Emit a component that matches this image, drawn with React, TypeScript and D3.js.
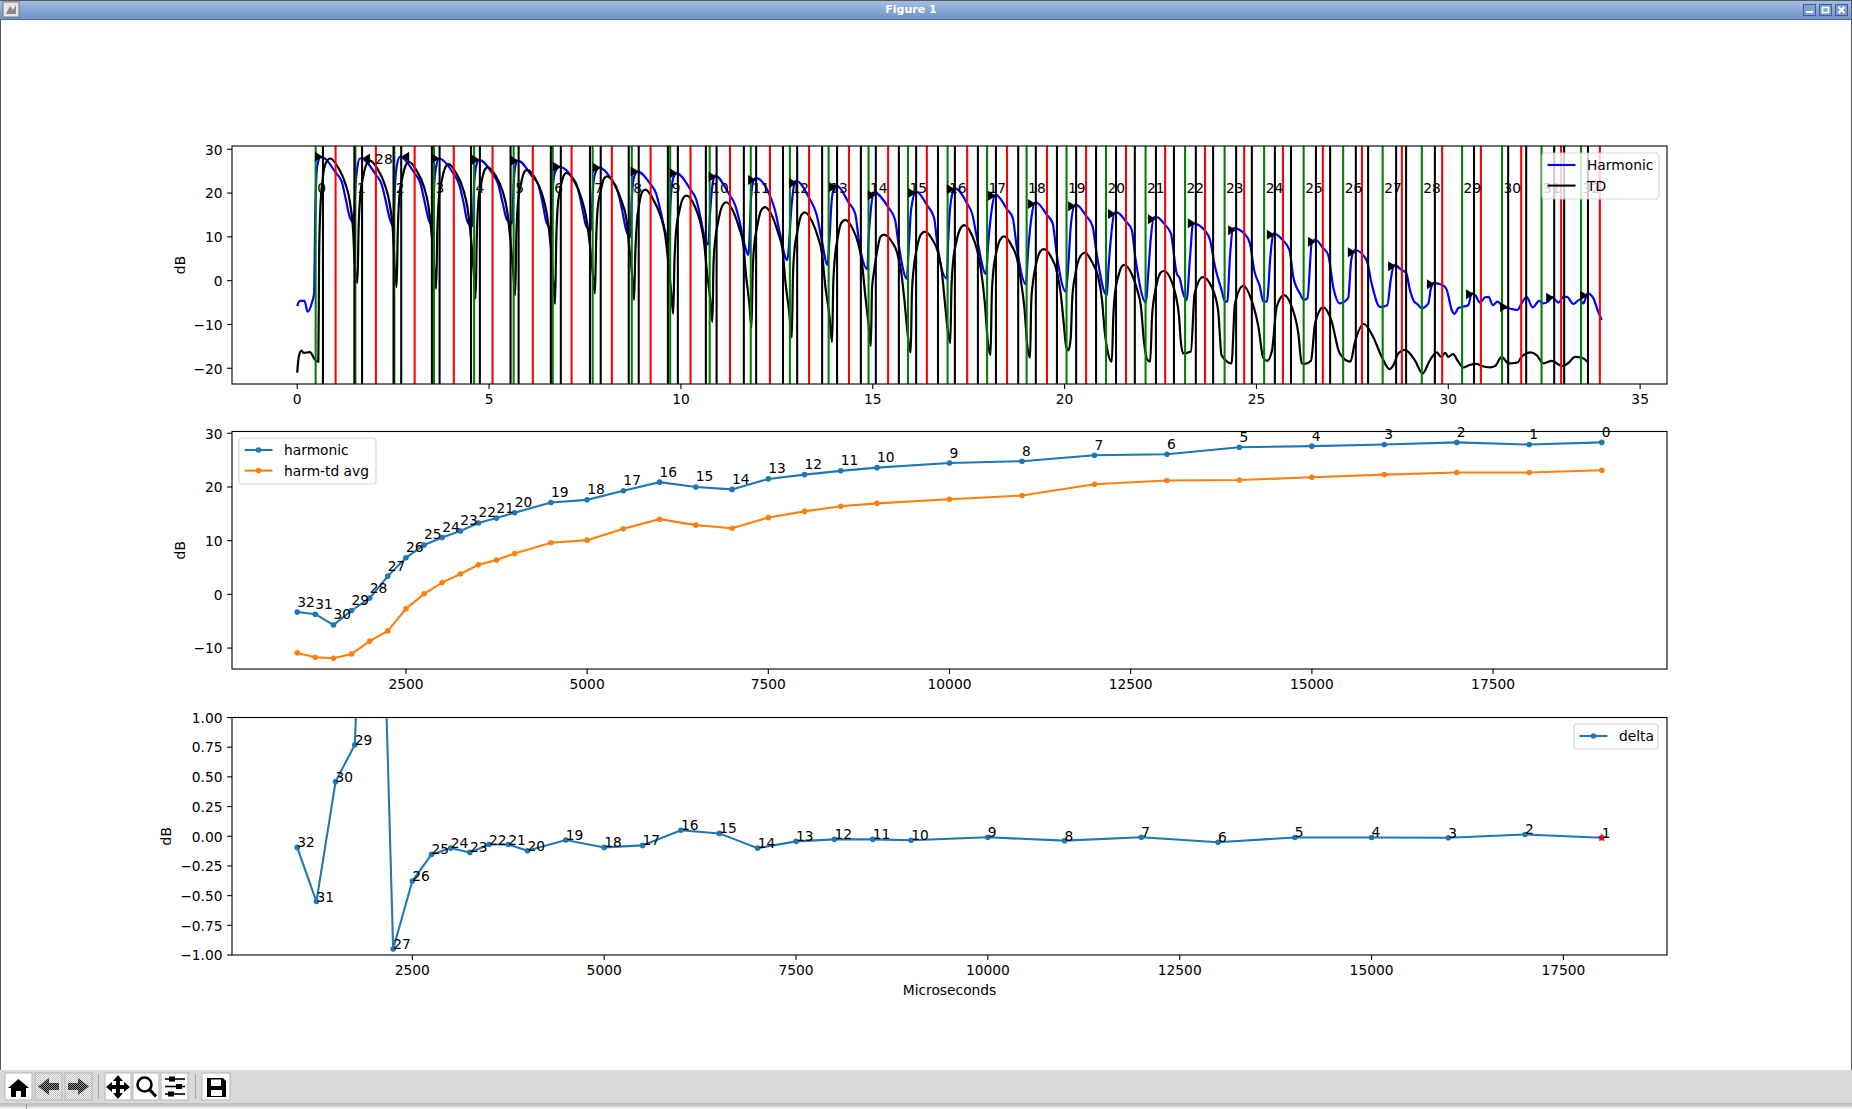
import * as d3 from "d3";

// ---- top panel: waveform in dB against time (ms) ----
const harmonicCurve: [number, number][] = [
  [0, -5.8], [0.07, -4.6], [0.19, -4.6], [0.27, -7.1], [0.39, -4.8], [0.44, -2.9], [0.47, 15.4], [0.52, 26.1], [0.61, 28.2],
  [0.7, 28], [1.0, 24.7], [1.16, 22.6], [1.26, 18.8], [1.37, 14.5], [1.47, 13.3],
  [1.52, 22], [1.57, 26], [1.63, 27.9], [1.66, 27.9], [2.05, 24.2], [2.2, 22], [2.3, 18.5], [2.41, 14.2], [2.5, 12.4],
  [2.55, 22], [2.6, 26.5], [2.68, 28.3], [3.06, 24.5], [3.2, 22.5], [3.32, 18], [3.43, 13.8], [3.53, 12.7],
  [3.57, 22], [3.62, 26], [3.69, 27.9], [4.08, 24.3], [4.22, 22], [4.33, 18], [4.45, 13.2], [4.57, 12.5],
  [4.61, 22], [4.66, 26], [4.74, 27.6], [5.09, 24.4], [5.24, 22], [5.36, 17.5], [5.47, 13.8], [5.6, 13.0],
  [5.64, 22], [5.68, 26], [5.75, 27.4], [6.14, 23.6], [6.28, 22], [6.4, 17.5], [6.5, 13.2], [6.62, 12],
  [6.66, 21], [6.72, 24.8], [6.84, 26.0], [7.15, 23.8], [7.3, 21.5], [7.42, 17], [7.53, 12.5], [7.66, 11.5],
  [7.7, 20], [7.76, 24.4], [7.88, 25.8], [8.2, 23], [8.33, 21], [8.46, 16.5], [8.56, 12], [8.68, 10],
  [8.72, 19], [8.78, 23.7], [8.87, 24.9], [9.21, 22], [9.35, 20], [9.48, 15.5], [9.58, 11.5], [9.69, 8.9],
  [9.73, 18], [9.8, 23.4], [9.89, 24.5], [10.25, 20.8], [10.4, 18.5], [10.52, 14], [10.6, 10.5], [10.71, 8.2],
  [10.76, 15.4], [10.83, 22.3], [10.89, 24], [11.24, 20], [11.41, 17.3], [11.52, 13.9], [11.65, 8.5], [11.76, 5.9],
  [11.83, 19.2], [11.9, 23], [11.96, 23.4], [12.31, 19.6], [12.45, 16.2], [12.58, 10.8], [12.77, 4.7],
  [12.89, 17.7], [12.97, 22.7], [13.02, 22.7], [13.34, 18.9], [13.54, 15], [13.67, 9.3], [13.82, 3.6],
  [13.87, 9.3], [13.94, 19.2], [14.03, 21.7], [14.06, 21.7], [14.38, 17.7], [14.54, 15.4], [14.65, 8.5], [14.86, 2.6],
  [14.89, 9.3], [14.95, 16.2], [15.03, 20], [15.06, 20], [15.4, 16.8], [15.58, 13.9], [15.67, 8.5], [15.89, 0.4],
  [15.93, 6.2], [16.0, 16.2], [16.13, 20.4], [16.41, 17.3], [16.6, 14.3], [16.68, 8.5], [16.93, 0.5],
  [16.97, 10], [17.03, 17.7], [17.12, 20.9], [17.14, 21.1], [17.46, 17.6], [17.6, 15], [17.71, 10], [17.95, 1.5],
  [18.01, 8.5], [18.1, 16.2], [18.19, 19.6], [18.21, 19.6], [18.5, 16.3], [18.65, 14.3], [18.75, 7.8], [18.99, -0.8],
  [19.05, 7], [19.14, 14.7], [19.23, 17.9], [19.25, 17.9], [19.54, 15], [19.69, 13.1], [19.79, 6.3], [20.03, -2.5],
  [20.1, 4], [20.16, 12.4], [20.27, 17.3], [20.3, 17.3], [20.56, 14.8], [20.73, 12.4], [20.82, 7], [21.1, -3.4],
  [21.14, 2.4], [21.21, 10], [21.31, 15.6], [21.36, 15.6], [21.6, 13.5], [21.75, 11.6], [21.84, 5.5], [22.12, -5],
  [22.18, 1.7], [22.25, 10], [22.33, 14.5], [22.4, 14.5], [22.62, 12.7], [22.77, 10.8], [22.92, 1.7],
  [23.0, 0.5], [23.09, -2.9], [23.18, -4.4], [23.27, 5.5], [23.35, 13.1], [23.66, 11.4], [23.79, 9.3], [23.92, 3.2], [24.09, -2.1],
  [24.18, -4.8], [24.24, -4.8], [24.31, 5.5], [24.4, 12], [24.7, 10.6], [24.83, 8.5], [24.94, 2.4], [25.09, -1.4],
  [25.18, -4.8], [25.27, -4.8], [25.37, 6.2], [25.44, 10.8], [25.7, 9.1], [25.86, 7], [25.96, 0.9], [26.13, -2.9],
  [26.24, -4.4], [26.33, -4], [26.44, 8.5], [26.53, 9.4], [26.74, 7.4], [26.87, 5.9], [27.0, -1.4], [27.17, -5.2],
  [27.39, -4], [27.47, 4.7], [27.56, 7], [27.87, 4.7], [28.0, -0.6], [28.22, -6],
  [28.41, -5.6], [28.5, 0.2], [28.59, 3.6], [28.79, 2.4], [28.9, 1.8], [29.0, -2.1], [29.11, -4.8], [29.19, -5.3], [29.31, -6.3],
  [29.48, -5.2], [29.54, -2.1], [29.61, -0.5], [29.87, -1.1], [29.96, -2.1], [30.09, -6.7], [30.16, -7.6], [30.26, -6.3],
  [30.35, -6], [30.52, -5.6], [30.61, -2.9], [30.7, -3.3], [30.83, -5], [30.96, -3.8], [31.05, -3.7], [31.16, -5.6],
  [31.28, -4.8], [31.44, -6], [31.57, -6.3], [31.8, -6.7], [31.91, -5.2], [32.04, -3.7], [32.2, -6.1], [32.37, -4.6],
  [32.48, -5.2], [32.61, -4.7], [32.7, -3.7], [32.87, -5], [33.0, -3.7], [33.09, -3.7], [33.26, -5.3], [33.43, -4.3],
  [33.52, -5.2], [33.63, -2.9], [33.78, -4], [33.89, -6.7], [34.0, -9],
];

const tdCurve: [number, number][] = [
  [0, -21], [0.04, -17.4], [0.11, -16], [0.17, -16.5], [0.33, -16.3], [0.46, -18], [0.55, -18.5],
  [0.57, 5], [0.6, 16], [0.66, 23], [0.75, 27], [0.86, 27.9], [1.07, 25.8], [1.245, 22.4], [1.376, 17.8], [1.46, 11], [1.5, 3.4], [1.57, -0.5],
  [1.6, 12], [1.64, 19.2], [1.72, 23.8], [1.83, 27], [1.9, 27.4], [2.1, 25.4], [2.28, 22], [2.41, 17.5], [2.5, 10.5], [2.54, 3], [2.59, -1.5],
  [2.62, 11], [2.66, 19], [2.74, 23.5], [2.85, 26.7], [2.92, 27.1], [3.12, 25], [3.3, 21.5], [3.42, 17], [3.51, 10], [3.57, 3], [3.62, -1.8],
  [3.65, 11], [3.69, 18.5], [3.77, 23], [3.88, 26.2], [3.94, 26.6], [4.14, 24.6], [4.32, 21], [4.44, 16.5], [4.53, 9.5], [4.6, 2], [4.65, -4],
  [4.68, 10], [4.72, 18], [4.8, 22.5], [4.9, 25.5], [4.97, 25.9], [5.17, 24], [5.35, 20.5], [5.47, 16], [5.56, 9], [5.63, 2], [5.68, -3.3],
  [5.71, 10], [5.75, 17.5], [5.83, 22], [5.93, 25], [6.0, 25.3], [6.2, 23.4], [6.38, 19.8], [6.5, 15.5], [6.6, 8.5], [6.67, 0], [6.72, -5.3],
  [6.75, 9], [6.79, 17], [6.87, 21.5], [6.96, 24.2], [7.02, 24.6], [7.22, 22.7], [7.4, 19], [7.52, 15], [7.63, 8], [7.71, 1], [7.76, -2.9],
  [7.79, 9], [7.83, 16.5], [7.91, 20.5], [8.0, 23.4], [8.08, 23.8], [8.28, 21.8], [8.46, 18], [8.58, 14], [8.65, 8], [8.73, 1], [8.78, -4.4],
  [8.81, 6], [8.85, 13], [8.91, 17.3], [9.0, 20.4], [9.08, 20.8], [9.28, 18.5], [9.46, 15], [9.58, 11], [9.65, 6], [9.74, -2], [9.8, -7.6],
  [9.83, 4], [9.87, 11], [9.95, 15.5], [10.07, 19], [10.15, 19.4], [10.36, 17], [10.5, 13.5], [10.6, 9], [10.68, 2], [10.76, -4], [10.82, -9.4],
  [10.85, 4], [10.89, 9], [10.96, 13], [11.08, 17.1], [11.18, 17.9], [11.38, 15.5], [11.52, 12], [11.63, 8], [11.7, 1], [11.78, -5], [11.84, -10.7],
  [11.87, 2], [11.91, 8], [11.98, 12], [12.09, 16], [12.19, 16.8], [12.39, 14.5], [12.53, 11], [12.65, 7], [12.72, 0], [12.82, -7], [12.89, -13],
  [12.92, 1], [12.96, 7], [13.03, 11], [13.14, 15], [13.23, 15.6], [13.43, 13.3], [13.57, 10], [13.68, 6], [13.76, -1], [13.87, -8], [13.94, -14],
  [13.97, -1], [14.01, 5], [14.08, 9.5], [14.18, 13.2], [14.28, 13.9], [14.48, 11.8], [14.62, 8.5], [14.72, 4], [14.8, -3], [14.89, -10], [14.95, -14.9],
  [14.98, -2], [15.03, 2], [15.1, 6], [15.2, 10], [15.29, 10.5], [15.49, 9], [15.63, 6.5], [15.74, 2], [15.82, -4], [15.92, -13], [15.99, -16.4],
  [16.02, -3], [16.07, 3], [16.14, 7], [16.26, 10.6], [16.36, 11.2], [16.56, 9.3], [16.7, 6.5], [16.8, 2], [16.88, -5], [16.95, -11], [17.02, -14.3],
  [17.05, -2], [17.09, 4], [17.17, 8.5], [17.29, 12], [17.38, 12.7], [17.58, 10.5], [17.72, 7], [17.82, 2.5], [17.92, -5], [18.0, -14], [18.07, -17],
  [18.1, -4], [18.14, 2], [18.21, 6], [18.33, 9.5], [18.42, 10.1], [18.62, 8], [18.76, 5], [18.86, 0], [18.95, -6], [19.03, -15], [19.1, -17.6],
  [19.13, -5], [19.18, 0], [19.25, 3.5], [19.36, 6.6], [19.46, 7.2], [19.66, 5.2], [19.8, 2], [19.9, -3], [19.98, -10], [20.04, -15], [20.1, -15.9],
  [20.16, -13], [20.2, -4], [20.27, 1], [20.42, 5.7], [20.53, 6.4], [20.73, 4], [20.87, 1], [20.97, -4], [21.05, -12], [21.13, -16.5], [21.23, -18.5],
  [21.27, -8], [21.31, -3], [21.4, 1], [21.48, 3.1], [21.55, 3.6], [21.75, 1.5], [21.89, -2], [21.99, -6], [22.07, -14], [22.15, -18], [22.23, -18.5],
  [22.28, -8], [22.33, -4], [22.42, 0], [22.5, 1.8], [22.59, 2.2], [22.78, 0], [22.9, -3.5], [22.98, -8], [23.03, -14], [23.09, -16.6],
  [23.29, -16.2], [23.39, -2.9], [23.6, 0.8], [23.83, -1.4], [24, -6.7], [24.09, -17], [24.35, -18.9],
  [24.44, -5.2], [24.66, -1.2], [24.87, -4.4], [25.05, -10.5], [25.18, -17.7], [25.28, -18.3], [25.4, -16.2],
  [25.53, -5.9], [25.72, -3.3], [25.92, -6], [26.09, -12], [26.18, -18.9], [26.27, -19], [26.42, -18.3],
  [26.53, -9.7], [26.74, -6.1], [26.95, -9], [27.17, -16.6], [27.45, -18.5], [27.56, -14.3], [27.8, -9.9],
  [28.04, -12.8], [28.26, -17.3], [28.47, -20.2], [28.57, -19.3], [28.7, -16.6], [28.87, -15.8], [29.13, -18.2],
  [29.33, -21.2], [29.52, -18.2], [29.7, -16.4], [29.81, -17.4], [29.92, -16.5], [30.0, -17.4], [30.12, -16.8], [30.26, -18.5],
  [30.39, -19.8], [30.57, -19.2], [30.74, -19], [30.87, -19.5], [31.09, -19.8], [31.22, -19.5], [31.39, -17.4], [31.57, -18.9],
  [31.8, -18.7], [31.91, -17.4], [32.13, -16.4], [32.3, -17], [32.48, -18.9], [32.7, -18.3], [32.96, -19.5], [33.13, -18.8],
  [33.3, -17.4], [33.48, -17.6], [33.65, -18.7],
];

const greenLines = [
  0.48, 1.515, 2.53, 3.565, 4.61, 5.64, 6.66, 7.7, 8.72, 9.72, 10.75, 11.82, 12.84, 13.85, 14.89, 15.92, 16.95,
  17.98, 19.01, 20.05, 21.08, 22.11, 23.14, 24.17, 25.2, 26.23, 27.26, 28.29, 29.31, 30.36, 31.4, 32.43, 33.46,
];
const redLines = [
  1.0, 2.05, 3.06, 4.08, 5.09, 6.14, 7.15, 8.2, 9.21, 10.25, 11.28, 12.32, 13.34, 14.38, 15.4, 16.41, 17.46,
  18.5, 19.54, 20.56, 21.6, 22.62, 23.66, 24.68, 25.69, 26.73, 27.75, 28.79, 29.84, 30.85, 31.9, 32.94, 33.95,
];
const blackLines = [
  0.67, 1.49, 1.69, 2.51, 2.71, 3.51, 3.71, 4.53, 4.76, 5.56, 5.77, 6.61, 6.87, 7.63, 7.91, 8.64, 8.9, 9.66, 9.92,
  10.65, 10.93, 11.64, 11.96, 12.66, 13.03, 13.68, 14.07, 14.69, 15.08, 15.68, 16.13, 16.7, 17.14, 17.74, 18.21,
  18.79, 19.25, 19.8, 20.3, 20.82, 21.34, 21.83, 22.38, 22.85, 23.42, 23.87, 24.47, 24.88, 25.48, 25.9, 26.55,
  26.92, 27.59, 27.91, 28.64, 28.9, 29.65, 30.67, 31.56, 32.03, 32.76, 33.02, 33.64,
];
const peakTimes = [
  0.67, 1.69, 2.71, 3.71, 4.76, 5.77, 6.87, 7.91, 8.9, 9.92, 10.93, 11.96, 13.03, 14.07, 15.08, 16.13, 17.14,
  18.21, 19.25, 20.3, 21.34, 22.38, 23.42, 24.47, 25.48, 26.55, 27.59, 28.64, 29.65, 30.67, 31.56, 32.76, 33.64,
];
const peakDb = [
  28.3, 27.9, 28.3, 27.9, 27.6, 27.4, 26.0, 25.8, 24.9, 24.5, 23.7, 23.0, 22.3, 21.4, 19.5, 20.0, 20.9,
  19.4, 17.5, 17.0, 15.2, 14.0, 13.1, 11.5, 10.5, 8.9, 6.5, 3.3, -0.8, -3.1, -6.0, -3.9, -3.4,
];
const leftPointingPeaks = [1, 2];
const strayLabel = { text: "28", t: 2.03, db: 26.6 };
const topXTicks = [0, 5, 10, 15, 20, 25, 30, 35];
const topYTicks = [-20, -10, 0, 10, 20, 30];

// ---- middle panel ----
const midMicroseconds = [
  19000, 18000, 17000, 16000, 15000, 14000, 13000, 12000, 11000, 10000, 9000, 8500, 8000, 7500, 7000, 6500, 6000,
  5500, 5000, 4500, 4000, 3750, 3500, 3250, 3000, 2750, 2500, 2250, 2000, 1750, 1500, 1250, 1000,
];
const harmonicDb = [
  28.3, 27.9, 28.3, 27.9, 27.6, 27.4, 26.1, 25.9, 24.8, 24.45, 23.6, 23, 22.3, 21.5, 19.55, 20.0, 20.9,
  19.3, 17.6, 17.1, 15.2, 14.2, 13.3, 11.8, 10.6, 9.2, 6.8, 3.4, -0.7, -3.0, -5.7, -3.7, -3.3,
];
const harmTdAvgDb = [
  23.1, 22.7, 22.7, 22.3, 21.8, 21.3, 21.2, 20.5, 18.4, 17.7, 16.95, 16.4, 15.45, 14.3, 12.3, 12.9, 14.0,
  12.2, 10.1, 9.6, 7.6, 6.4, 5.5, 3.8, 2.2, 0.1, -2.7, -6.8, -8.7, -11.1, -11.9, -11.7, -10.9,
];
const midXTicks = [2500, 5000, 7500, 10000, 12500, 15000, 17500];
const midYTicks = [-10, 0, 10, 20, 30];

// ---- bottom panel (index 0 has no delta point) ----
const deltaMicroseconds = midMicroseconds.slice(1);
const deltaDb = [
  -0.012, 0.015, -0.012, -0.01, -0.01, -0.051, -0.009, -0.037, -0.009, -0.034, -0.026, -0.026, -0.043, -0.1, 0.024, 0.05,
  -0.077, -0.094, -0.032, -0.122, -0.07, -0.07, -0.136, -0.1, -0.153, -0.377, -0.95, 4.8, 0.77, 0.46, -0.55, -0.094,
];
const botYTicks = [-1, -0.75, -0.5, -0.25, 0, 0.25, 0.5, 0.75, 1];

const W = 1852;
const H = 1109;
const FONT = "'DejaVu Sans', sans-serif";
const FS = 13.8;
const left = 232;
const right = 1667;

const xTop = d3.scaleLinear([-1.7, 35.7], [left, right]);
const yTop = d3.scaleLinear([-23.6, 30.75], [384, 146]);
const xMid = d3.scaleLinear([100, 19900], [left, right]);
const yMid = d3.scaleLinear([-13.9, 30.33], [669, 431.5]);
const xBot = d3.scaleLinear([150, 18850], [left, right]);
const yBot = d3.scaleLinear([-1, 1], [955, 717.5]);

const minus = (s: string) => s.replace("-", "\u2212");

function Frame({ x, y, xTicks, yTicks, yFmt, yLabelX }: {
  x: d3.ScaleLinear<number, number>;
  y: d3.ScaleLinear<number, number>;
  xTicks: number[];
  yTicks: number[];
  yFmt: (v: number) => string;
  yLabelX: number;
}) {
  const [y0, y1] = y.range();
  return (
    <g fontFamily={FONT} fontSize={FS} fill="#000">
      <rect x={left} y={y1} width={right - left} height={y0 - y1} fill="none" stroke="#000" strokeWidth={1.1} />
      {xTicks.map((t) => (
        <g key={t}>
          <line x1={x(t)} x2={x(t)} y1={y0} y2={y0 + 4.9} stroke="#000" strokeWidth={1.1} />
          <text x={x(t)} y={y0 + 20} textAnchor="middle">{t}</text>
        </g>
      ))}
      {yTicks.map((t) => (
        <g key={t}>
          <line x1={left - 4.9} x2={left} y1={y(t)} y2={y(t)} stroke="#000" strokeWidth={1.1} />
          <text x={left - 9.5} y={y(t) + 5.3} textAnchor="end">{minus(yFmt(t))}</text>
        </g>
      ))}
      <text
        x={yLabelX}
        y={(y0 + y1) / 2}
        textAnchor="middle"
        transform={`rotate(-90 ${yLabelX} ${(y0 + y1) / 2})`}
      >
        dB
      </text>
    </g>
  );
}

function Legend({ x, y, w, entries }: {
  x: number;
  y: number;
  w: number;
  entries: { label: string; color: string; dot?: boolean }[];
}) {
  const h = entries.length === 1 ? 25 : 46;
  return (
    <g fontFamily={FONT} fontSize={FS}>
      <rect x={x} y={y} width={w} height={h} rx={3} fill="#fff" fillOpacity={0.8} stroke="#ccc" strokeOpacity={0.8} strokeWidth={1.1} />
      {entries.map((e, i) => {
        const ly = y + 12 + i * 20.6;
        return (
          <g key={e.label}>
            <line x1={x + 5.5} x2={x + 33.5} y1={ly} y2={ly} stroke={e.color} strokeWidth={2.08} />
            {e.dot && <circle cx={x + 19.5} cy={ly} r={2.8} fill={e.color} />}
            <text x={x + 45} y={ly + 5}>{e.label}</text>
          </g>
        );
      })}
    </g>
  );
}

function Toolbar() {
  const btn = (x: number, w = 27) => (
    <rect x={x} y={1073} width={w} height={27} fill="#fdfdfd" stroke="#b5b5b5" />
  );
  return (
    <g>
      <defs>
        <pattern id="dither" width={2} height={2} patternUnits="userSpaceOnUse">
          <rect width={2} height={2} fill="#f4f4f4" />
          <rect width={1} height={1} fill="#c4c4c4" />
          <rect x={1} y={1} width={1} height={1} fill="#c4c4c4" />
        </pattern>
        <pattern id="dither-dark" width={2} height={2} patternUnits="userSpaceOnUse">
          <rect width={2} height={2} fill="#8a8a8a" />
          <rect width={1} height={1} fill="#111" />
          <rect x={1} y={1} width={1} height={1} fill="#111" />
        </pattern>
      </defs>
      <rect x={0} y={1070} width={W} height={33} fill="#d9d9d9" />
      <rect x={0} y={1103} width={W} height={6} fill="#efefef" />
      <line x1={0} x2={W} y1={1104} y2={1104} stroke="#8c8c8c" />
      <line x1={0} x2={W} y1={1106} y2={1106} stroke="#b0b0b0" />
      <line x1={26.5} x2={26.5} y1={1104} y2={1109} stroke="#8c8c8c" />
      {btn(5)}
      <rect x={35} y={1073} width={27} height={27} fill="url(#dither)" stroke="#b5b5b5" />
      <rect x={65} y={1073} width={27} height={27} fill="url(#dither)" stroke="#b5b5b5" />
      {btn(105, 26)}
      {btn(133, 26)}
      {btn(161, 27)}
      {btn(202, 28)}
      <line x1={98.5} x2={98.5} y1={1074} y2={1099} stroke="#a8a8a8" />
      <line x1={195.5} x2={195.5} y1={1074} y2={1099} stroke="#a8a8a8" />
      {/* home */}
      <path d="M8 1088 L18.5 1079 L29 1088 L26 1088 L26 1097 L21 1097 L21 1091 L16 1091 L16 1097 L11 1097 L11 1088 Z" fill="#000" />
      {/* back */}
      <path d="M38 1086.5 L49 1078 L49 1083 L59 1083 L59 1090 L49 1090 L49 1095 Z" fill="url(#dither-dark)" />
      {/* forward */}
      <path d="M89 1086.5 L78 1078 L78 1083 L68 1083 L68 1090 L78 1090 L78 1095 Z" fill="url(#dither-dark)" />
      {/* pan */}
      <path
        d="M118 1075 L123 1081 L120 1081 L120 1085 L124 1085 L124 1082 L130 1087 L124 1092 L124 1089 L120 1089 L120 1093 L123 1093 L118 1099 L113 1093 L116 1093 L116 1089 L112 1089 L112 1092 L106 1087 L112 1082 L112 1085 L116 1085 L116 1081 L113 1081 Z"
        fill="#000"
      />
      {/* zoom */}
      <circle cx={144.5} cy={1084.5} r={7} fill="none" stroke="#000" strokeWidth={2.6} />
      <line x1={149.5} y1={1089.5} x2={156} y2={1096.5} stroke="#000" strokeWidth={3.2} />
      {/* sliders */}
      {[1079, 1086.5, 1094].map((yy, i) => (
        <g key={yy}>
          <line x1={165} x2={185} y1={yy} y2={yy} stroke="#000" strokeWidth={1.6} />
          <rect x={[169, 176, 168][i]} y={yy - 2.5} width={6} height={5} fill="#000" />
        </g>
      ))}
      {/* save */}
      <path d="M207 1078 L223 1078 L226 1081 L226 1097 L207 1097 Z M211 1079.5 L211 1086 L221 1086 L221 1079.5 Z M211 1090 L211 1096 L222 1096 L222 1090 Z" fill="#000" fillRule="evenodd" />
    </g>
  );
}

function TitleBar() {
  return (
    <g>
      <defs>
        <linearGradient id="title-grad" x1="0" y1="0" x2="0" y2="1">
          <stop offset="0" stopColor="#a4c0e4" />
          <stop offset="1" stopColor="#6f92c7" />
        </linearGradient>
      </defs>
      <rect x={0} y={0} width={W} height={19} fill="url(#title-grad)" />
      <line x1={0} x2={W} y1={0.5} y2={0.5} stroke="#5a5a5a" />
      <line x1={0} x2={W} y1={19.5} y2={19.5} stroke="#4f6d9b" />
      <rect x={3} y={2} width={16} height={15} fill="#e6e6e6" stroke="#777" />
      <path d="M6 14 L10 6 L13 10 L16 5 L16 14 Z" fill="#8a8a8a" />
      <text x={911} y={13} textAnchor="middle" fontFamily={FONT} fontSize={11} fontWeight="bold" fill="#fff">
        Figure 1
      </text>
      {[1803, 1819, 1835].map((bx, i) => (
        <g key={bx}>
          <rect x={bx + 0.5} y={4.5} width={12} height={11} fill="#7f9fce" stroke="#3f5f92" />
          {i === 0 && <rect x={bx + 3} y={11} width={7} height={2} fill="#fff" />}
          {i === 1 && <rect x={bx + 3.5} y={7.5} width={6} height={5} fill="none" stroke="#fff" strokeWidth={1.5} />}
          {i === 2 && <path d={`M${bx + 3.5} 7 L${bx + 9.5} 13 M${bx + 9.5} 7 L${bx + 3.5} 13`} stroke="#fff" strokeWidth={2} />}
        </g>
      ))}
    </g>
  );
}

export default function App() {
  const topLine = d3
    .line<[number, number]>()
    .x((d) => xTop(d[0]))
    .y((d) => yTop(d[1]))
    .curve(d3.curveMonotoneX);
  const midLine = d3.line<[number, number]>().x((d) => xMid(d[0])).y((d) => yMid(d[1]));
  const botLine = d3.line<[number, number]>().x((d) => xBot(d[0])).y((d) => yBot(d[1]));
  const midHarmonic = midMicroseconds.map((m, i) => [m, harmonicDb[i]] as [number, number]);
  const midAvg = midMicroseconds.map((m, i) => [m, harmTdAvgDb[i]] as [number, number]);
  const delta = deltaMicroseconds.map((m, i) => [m, deltaDb[i]] as [number, number]);
  const star = d3.symbol(d3.symbolStar, 26)() as string;

  return (
    <svg
      width={W}
      height={H}
      viewBox={`0 0 ${W} ${H}`}
      style={{ position: "absolute", left: 0, top: 0, display: "block", background: "#fff" }}
    >
      <defs>
        <clipPath id="clip-top"><rect x={left} y={146} width={right - left} height={238} /></clipPath>
        <clipPath id="clip-mid"><rect x={left} y={431.5} width={right - left} height={237.5} /></clipPath>
        <clipPath id="clip-bot"><rect x={left} y={717.5} width={right - left} height={237.5} /></clipPath>
      </defs>
      <TitleBar />
      <line x1={0.5} x2={0.5} y1={20} y2={1070} stroke="#5a5a5a" />
      <line x1={1851.5} x2={1851.5} y1={0} y2={1070} stroke="#5a5a5a" />

      {/* top panel */}
      <g clipPath="url(#clip-top)">
        <path d={topLine(harmonicCurve) ?? ""} fill="none" stroke="#0000ff" strokeWidth={2.2} />
        <path d={topLine(tdCurve) ?? ""} fill="none" stroke="#000" strokeWidth={2.2} />
        {greenLines.map((t) => (
          <line key={t} x1={xTop(t)} x2={xTop(t)} y1={146} y2={384} stroke="#008000" strokeWidth={2.08} />
        ))}
        {blackLines.map((t) => (
          <line key={t} x1={xTop(t)} x2={xTop(t)} y1={146} y2={384} stroke="#000" strokeWidth={2.08} />
        ))}
        {redLines.map((t) => (
          <line key={t} x1={xTop(t)} x2={xTop(t)} y1={146} y2={384} stroke="#ff0000" strokeWidth={2.08} />
        ))}
        {peakTimes.map((t, i) => {
          const px = xTop(t);
          const py = yTop(peakDb[i]);
          const dir = leftPointingPeaks.includes(i) ? 1 : -1;
          return (
            <path key={t} d={`M${px} ${py} L${px + dir * 8} ${py - 5} L${px + dir * 8} ${py + 5} Z`} fill="#000" />
          );
        })}
      </g>
      <g fontFamily={FONT} fontSize={FS} fill="#000">
        {greenLines.map((t, i) => (
          <text key={t} x={xTop(t) + 1.5} y={yTop(20)}>{i}</text>
        ))}
        <text x={xTop(strayLabel.t)} y={yTop(strayLabel.db)}>{strayLabel.text}</text>
      </g>
      <Frame x={xTop} y={yTop} xTicks={topXTicks} yTicks={topYTicks} yFmt={String} yLabelX={185} />
      <Legend
        x={1542}
        y={153}
        w={117}
        entries={[
          { label: "Harmonic", color: "#0000ff" },
          { label: "TD", color: "#000" },
        ]}
      />

      {/* middle panel */}
      <g clipPath="url(#clip-mid)">
        <path d={midLine(midHarmonic) ?? ""} fill="none" stroke="#1f77b4" strokeWidth={2.08} />
        <path d={midLine(midAvg) ?? ""} fill="none" stroke="#ff7f0e" strokeWidth={2.08} />
        {midHarmonic.map(([m, v]) => (
          <circle key={m} cx={xMid(m)} cy={yMid(v)} r={2.8} fill="#1f77b4" />
        ))}
        {midAvg.map(([m, v]) => (
          <circle key={m} cx={xMid(m)} cy={yMid(v)} r={2.8} fill="#ff7f0e" />
        ))}
      </g>
      <g fontFamily={FONT} fontSize={FS} fill="#000">
        {midHarmonic.map(([m, v], i) => (
          <text key={m} x={xMid(m)} y={yMid(v) - 5.5}>{i}</text>
        ))}
      </g>
      <Frame x={xMid} y={yMid} xTicks={midXTicks} yTicks={midYTicks} yFmt={String} yLabelX={185} />
      <Legend
        x={239}
        y={438}
        w={137}
        entries={[
          { label: "harmonic", color: "#1f77b4", dot: true },
          { label: "harm-td avg", color: "#ff7f0e", dot: true },
        ]}
      />

      {/* bottom panel */}
      <g clipPath="url(#clip-bot)">
        <path d={botLine(delta) ?? ""} fill="none" stroke="#1f77b4" strokeWidth={2.08} />
        {delta.map(([m, v]) => (
          <circle key={m} cx={xBot(m)} cy={yBot(v)} r={2.8} fill="#1f77b4" />
        ))}
        <path d={star} fill="#ff0000" transform={`translate(${xBot(delta[0][0])},${yBot(delta[0][1])})`} />
      </g>
      <g fontFamily={FONT} fontSize={FS} fill="#000">
        {delta.map(([m, v], i) =>
          yBot.domain()[0] <= v && v <= yBot.domain()[1] ? (
            <text key={m} x={xBot(m)} y={yBot(v)}>{i + 1}</text>
          ) : null
        )}
        <text x={(left + right) / 2} y={995} textAnchor="middle">Microseconds</text>
      </g>
      <Frame x={xBot} y={yBot} xTicks={midXTicks} yTicks={botYTicks} yFmt={(v) => v.toFixed(2)} yLabelX={171} />
      <Legend x={1574} y={724} w={84} entries={[{ label: "delta", color: "#1f77b4", dot: true }]} />

      <Toolbar />
    </svg>
  );
}
